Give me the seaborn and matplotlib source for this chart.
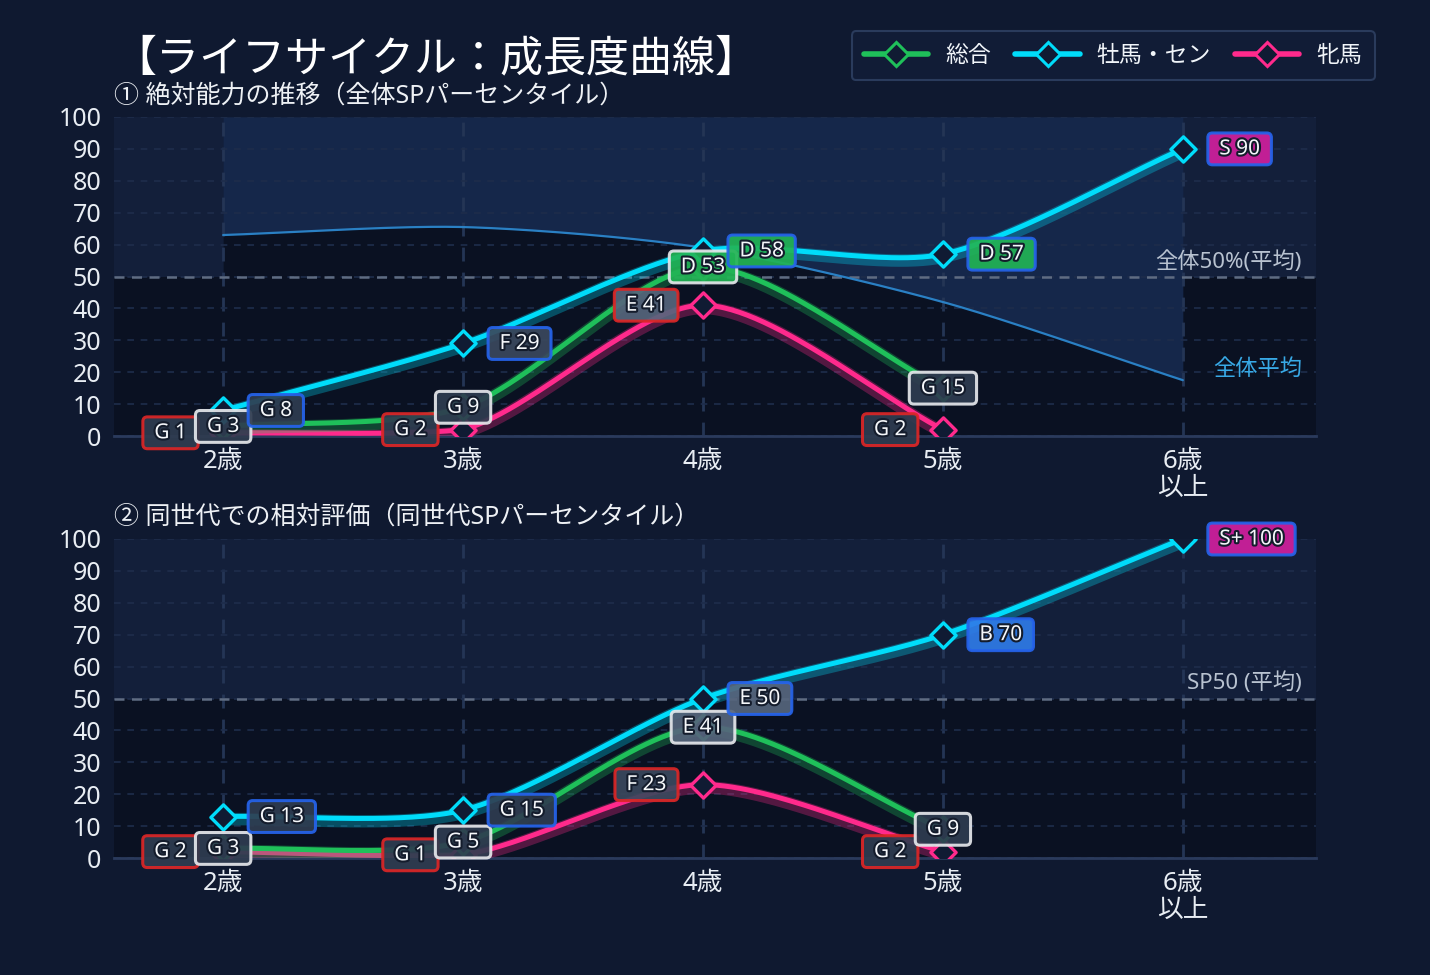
import numpy as np
import pandas as pd
import matplotlib
matplotlib.use("Agg")
import matplotlib.pyplot as plt
import matplotlib.patheffects as pe
from matplotlib.lines import Line2D
from matplotlib.patches import BoxStyle
import seaborn as sns

# ---------------- data ----------------
ages = ["2歳", "3歳", "4歳", "5歳", "6歳\n以上"]
series_names = ["総合", "牡馬・セン", "牝馬"]

top_total = [3, 9, 53, 15]
top_total_grade = ["G", "G", "D", "G"]
top_male = [8, 29, 58, 57, 90]
top_male_grade = ["G", "F", "D", "D", "S"]
top_female = [1, 2, 41, 2]
top_female_grade = ["G", "G", "E", "G"]
top_avg = [63, 65.5, 59, 42, 17.5]

bot_total = [3, 5, 41, 9]
bot_total_grade = ["G", "G", "E", "G"]
bot_male = [13, 15, 50, 70, 100]
bot_male_grade = ["G", "G", "E", "B", "S+"]
bot_female = [2, 1, 23, 2]
bot_female_grade = ["G", "G", "F", "G"]

# ---------------- style ----------------
FIG_BG = "#0f1930"
BAND_HI = "#131f3a"
BAND_LO = "#0a1122"
FILL_HI = "#15274a"
GREEN = "#1fc05a"
CYAN = "#00dcfa"
PINK = "#ff2a8c"
MARK_FACE = "#101b33"
GRADE_FACE = {"G": "#2f3c50", "F": "#3a485d", "E": "#56657c", "D": "#22b455",
              "B": "#2f7be8", "S": "#d11f9e", "S+": "#d11f9e"}
EDGE = {"総合": "#e5e7eb", "牡馬・セン": "#2563eb", "牝馬": "#dc2626"}
COLORS = {"総合": GREEN, "牡馬・セン": CYAN, "牝馬": PINK}

sns.set_theme(style="dark")
plt.rcParams["font.family"] = ["Noto Sans", "Noto Sans CJK JP", "DejaVu Sans"]
plt.rcParams["axes.unicode_minus"] = False

SX, SY = 240.0, 3.19  # approx pixel scale for spline tension


def smooth(vals, t=0.27, n=60):
    xs = np.arange(len(vals), dtype=float)
    ys = np.asarray(vals, dtype=float)
    P = np.column_stack([xs * SX, ys * SY])
    N = len(P)
    cpp, cpn = np.zeros_like(P), np.zeros_like(P)
    for i in range(N):
        p0 = P[i - 1] if i > 0 else P[i]
        p2 = P[i + 1] if i < N - 1 else P[i]
        d01 = np.hypot(*(P[i] - p0))
        d12 = np.hypot(*(p2 - P[i]))
        s = d01 + d12
        fa = t * d01 / s if s else 0
        fb = t * d12 / s if s else 0
        cpp[i] = P[i] - fa * (p2 - p0)
        cpn[i] = P[i] + fb * (p2 - p0)
    cpp[:, 1] = np.clip(cpp[:, 1], 0, 100 * SY)
    cpn[:, 1] = np.clip(cpn[:, 1], 0, 100 * SY)
    out = []
    u = np.linspace(0, 1, n)[:, None]
    for i in range(N - 1):
        a, b, c, d = P[i], cpn[i], cpp[i + 1], P[i + 1]
        seg = ((1 - u) ** 3) * a + 3 * ((1 - u) ** 2) * u * b + 3 * (1 - u) * u ** 2 * c + u ** 3 * d
        out.append(seg if i == 0 else seg[1:])
    out = np.vstack(out)
    return out[:, 0] / SX, out[:, 1] / SY


class WideRound:
    """Rounded box with separate horizontal / vertical padding."""

    def __init__(self, padx, pady, r):
        self.padx, self.pady, self.r = padx, pady, r

    def __call__(self, x0, y0, width, height, mutation_size):
        px, py = self.padx * mutation_size, self.pady * mutation_size
        return BoxStyle.Round(pad=0, rounding_size=self.r)(
            x0 - px, y0 - py, width + 2 * px, height + 2 * py, mutation_size)


fig = plt.figure(figsize=(14.3, 9.75), dpi=100, facecolor=FIG_BG)
ax1 = fig.add_axes([114 / 1430, 1 - 436 / 975, 1202 / 1430, 319 / 975])
ax2 = fig.add_axes([114 / 1430, 1 - 858 / 975, 1202 / 1430, 319 / 975])


def setup_axes(ax):
    ax.set_facecolor(BAND_LO)
    ax.axhspan(50, 100, color=BAND_HI, zorder=0.3, lw=0)
    ax.set_xlim(-0.455, 4.555)
    ax.set_ylim(0, 100)
    ax.set_axisbelow("line")
    ax.set_yticks(range(0, 101, 10))
    ax.set_xticks(range(5))
    ax.set_xticklabels(ages, fontsize=18.5, color="#e8edf3", linespacing=1.12)
    ax.tick_params(axis="y", labelsize=18, labelcolor="#e8edf3", pad=9, length=0)
    ax.tick_params(axis="x", pad=9, length=0)
    ax.grid(axis="y", color="#1e2d4b", ls=(0, (4, 4)), lw=1.2)
    ax.grid(axis="x", color="#243555", ls=(0, (5, 4)), lw=2)
    for s in ["top", "left", "right"]:
        ax.spines[s].set_visible(False)
    ax.spines["bottom"].set_color("#2a3a5c")
    ax.spines["bottom"].set_linewidth(2)
    ax.axhline(50, color="#5f6c82", ls=(0, (4, 3)), lw=1.8, zorder=1.6)


setup_axes(ax1)
setup_axes(ax2)

# average curve fill for top chart
axs, ays = smooth(top_avg)
ax1.fill_between(axs, ays, 100, color=FILL_HI, zorder=0.8, lw=0)
ax1.fill_between(axs, 0, ays, color=BAND_LO, zorder=0.8, lw=0)
sns.lineplot(x=axs, y=ays, ax=ax1, color="#2a80c4", lw=1.6, sort=False,
             estimator=None, zorder=2, legend=False)
ax1.text(4.496, 54.5, "全体50%(平均)", ha="right", va="center", fontsize=16,
         color="#b8c2d0", zorder=2)
ax1.text(4.496, 21, "全体平均", ha="right", va="center", fontsize=16,
         color="#38a9e6", zorder=2)
ax2.text(4.496, 54.9, "SP50 (平均)", ha="right", va="center", fontsize=16,
         color="#b8c2d0", zorder=2)

BOX = WideRound(0.55, 0.26, 0.22)
OFF = 0.152


def draw_series(ax, name, vals, grades, side):
    color = COLORS[name]
    xs, ys = smooth(vals)
    df = pd.DataFrame({"x": xs, "y": ys})
    sns.lineplot(data=df, x="x", y="y", ax=ax, color=color, lw=3.6, sort=False,
                 estimator=None, legend=False, zorder=4,
                 path_effects=[pe.SimpleLineShadow(offset=(0, -2), shadow_color=color,
                                                   alpha=0.3, linewidth=9),
                               pe.Normal()])
    pts = pd.DataFrame({"x": np.arange(len(vals)), "y": vals})
    sns.scatterplot(data=pts, x="x", y="y", ax=ax, marker="D", s=165,
                    color=MARK_FACE, edgecolor=color, linewidth=2.4, zorder=5,
                    legend=False)
    for i, (v, g) in enumerate(zip(vals, grades)):
        if side == "center":
            x, ha = i, "center"
        elif side == "right":
            x, ha = i + OFF, "left"
        else:
            x, ha = i - OFF, "right"
        ax.text(x, v, f"{g} {v}", ha=ha, va="center", fontsize=15, color="#f5f7fa",
                zorder=7, clip_on=False,
                path_effects=[pe.withStroke(linewidth=3, foreground="#141c2c")],
                bbox=dict(boxstyle=BOX, fc=GRADE_FACE[g], ec=EDGE[name], lw=2.2,
                          alpha=0.92))


draw_series(ax1, "牝馬", top_female, top_female_grade, "left")
draw_series(ax1, "総合", top_total, top_total_grade, "center")
draw_series(ax1, "牡馬・セン", top_male, top_male_grade, "right")
draw_series(ax2, "牝馬", bot_female, bot_female_grade, "left")
draw_series(ax2, "総合", bot_total, bot_total_grade, "center")
draw_series(ax2, "牡馬・セン", bot_male, bot_male_grade, "right")

for ax in (ax1, ax2):
    ax.set_xlabel("")
    ax.set_ylabel("")

# titles
fig.text(113 / 1430, 1 - 60 / 975, "【ライフサイクル：成長度曲線】", fontsize=31,
         color="#ffffff", va="center", ha="left")
fig.text(114 / 1430, 1 - 96 / 975, "① 絶対能力の推移（全体SPパーセンタイル）",
         fontsize=18, color="#eef1f5", va="center", ha="left")
fig.text(114 / 1430, 1 - 517 / 975, "② 同世代での相対評価（同世代SPパーセンタイル）",
         fontsize=18, color="#eef1f5", va="center", ha="left")

# legend
handles = [Line2D([0], [0], color=COLORS[n], lw=4, marker="D", ms=12,
                  mfc=MARK_FACE, mec=COLORS[n], mew=2.2) for n in series_names]
leg = fig.legend(handles, ["総合", "牡馬・セン", "牝馬"], loc="upper right",
                 bbox_to_anchor=(1375 / 1430, 1 - 31 / 975), ncol=3, frameon=True,
                 fontsize=16.5, handlelength=2.8, columnspacing=1.05, handletextpad=0.75,
                 borderpad=0.55, borderaxespad=0, fancybox=True, labelcolor="#f1f5f9")
leg.get_frame().set_facecolor("#111c36")
leg.get_frame().set_edgecolor("#2a3b5c")
leg.get_frame().set_linewidth(1.5)
leg.get_frame().set_alpha(1)

fig.savefig("out.png", dpi=100, facecolor=FIG_BG)
